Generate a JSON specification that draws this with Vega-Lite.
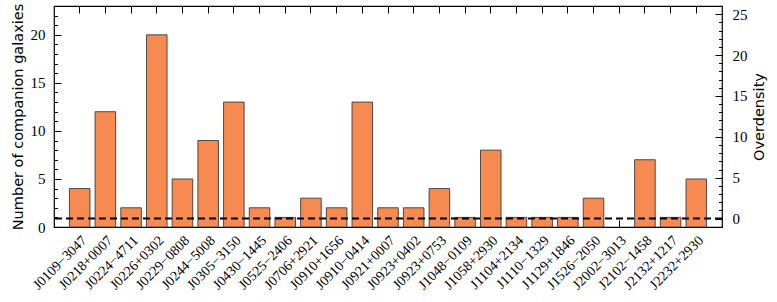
{
  "$schema": "https://vega.github.io/schema/vega-lite/v6.json",
  "width": 668,
  "height": 221,
  "autosize": "none",
  "padding": {"left": 54, "top": 6, "right": 55, "bottom": 75},
  "background": "white",
  "config": {
    "view": {"stroke": "black", "strokeWidth": 1.2},
    "axis": {"grid": false, "domain": false, "tickColor": "black", "labelColor": "black", "titleColor": "black", "labelFont": "Liberation Serif", "titleFont": "DejaVu Sans", "titleFontWeight": "normal", "titleFontSize": 14.5, "labelFontSize": 15}
  },
  "datasets": {
    "quasars": [
      {"field": "J0109−3047", "count": 4},
      {"field": "J0218+0007", "count": 12},
      {"field": "J0224−4711", "count": 2},
      {"field": "J0226+0302", "count": 20},
      {"field": "J0229−0808", "count": 5},
      {"field": "J0244−5008", "count": 9},
      {"field": "J0305−3150", "count": 13},
      {"field": "J0430−1445", "count": 2},
      {"field": "J0525−2406", "count": 1},
      {"field": "J0706+2921", "count": 3},
      {"field": "J0910+1656", "count": 2},
      {"field": "J0910−0414", "count": 13},
      {"field": "J0921+0007", "count": 2},
      {"field": "J0923+0402", "count": 2},
      {"field": "J0923+0753", "count": 4},
      {"field": "J1048−0109", "count": 1},
      {"field": "J1058+2930", "count": 8},
      {"field": "J1104+2134", "count": 1},
      {"field": "J1110−1329", "count": 1},
      {"field": "J1129+1846", "count": 1},
      {"field": "J1526−2050", "count": 3},
      {"field": "J2002−3013", "count": 0},
      {"field": "J2102−1458", "count": 7},
      {"field": "J2132+1217", "count": 1},
      {"field": "J2232+2930", "count": 5}
    ],
    "mean": [{"overdensity": 0}]
  },
  "layer": [
    {
      "data": {"name": "quasars"},
      "layer": [
        {
          "mark": {"type": "bar", "color": "#F78A50", "stroke": "#333333", "strokeWidth": 1},
          "encoding": {
            "x": {"field": "field", "type": "nominal", "sort": null,
              "scale": {"type": "band", "paddingInner": 0.2, "paddingOuter": 0.6},
              "axis": {"orient": "bottom", "title": null, "labelAngle": -45, "labelFontSize": 14, "tickSize": -7, "labelPadding": 13, "labelAlign": "right", "labelBaseline": "top"}},
            "y": {"field": "count", "type": "quantitative",
              "scale": {"domain": [0, 23], "nice": false, "zero": true},
              "axis": {"orient": "left", "values": [0, 5, 10, 15, 20], "tickSize": -7, "labelPadding": 16, "title": "Number of companion galaxies", "titlePadding": 5}},
            "strokeOpacity": {"condition": {"test": "datum.count > 0", "value": 0.85}, "value": 0}
          }
        },
        {
          "mark": {"type": "point", "opacity": 0},
          "encoding": {
            "x": {"field": "field", "type": "nominal", "sort": null,
              "axis": {"orient": "top", "title": null, "labels": false, "tickSize": -7}},
            "y": {"field": "count", "type": "quantitative",
              "axis": {"orient": "left", "values": [1,2,3,4,6,7,8,9,11,12,13,14,16,17,18,19,21,22], "labels": false, "tickSize": -3.5, "title": null}}
          }
        }
      ],
      "resolve": {"axis": {"x": "independent", "y": "independent"}}
    },
    {
      "data": {"name": "mean"},
      "layer": [
        {
          "mark": {"type": "rule", "color": "black", "strokeWidth": 2, "strokeDash": [7, 4]},
          "encoding": {
            "y": {"field": "overdensity", "type": "quantitative",
              "scale": {"domain": [-1.03, 26.0], "nice": false, "zero": false},
              "axis": {"orient": "right", "values": [0, 5, 10, 15, 20, 25], "tickSize": -7, "labelPadding": 17, "title": "Overdensity", "titleAngle": 270, "titleBaseline": "top", "titlePadding": 5}}
          }
        },
        {
          "mark": {"type": "rule", "opacity": 0},
          "encoding": {
            "y": {"field": "overdensity", "type": "quantitative",
              "axis": {"orient": "right", "values": [-1,1,2,3,4,6,7,8,9,11,12,13,14,16,17,18,19,21,22,23,24], "labels": false, "tickSize": -3.5, "title": null}}
          }
        }
      ],
      "resolve": {"axis": {"y": "independent"}}
    }
  ],
  "resolve": {"scale": {"y": "independent"}}
}
